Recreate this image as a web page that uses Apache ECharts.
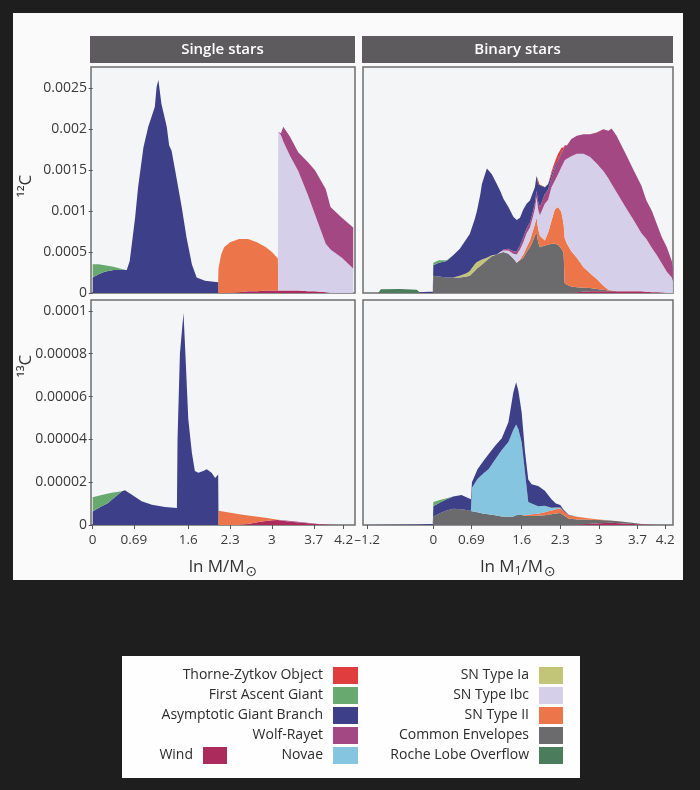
<!DOCTYPE html>
<html><head><meta charset="utf-8">
<script src="https://cdn.jsdelivr.net/npm/echarts@6/dist/echarts.min.js"></script>
<style>html,body{margin:0;padding:0;background:#1e1e1e}#c{width:700px;height:790px}</style>
</head><body><div id="c"></div>
<script>
// ---------- Tick values and labels ----------
const xTicksSingle = [0, 0.69, 1.6, 2.3, 3, 3.7, 4.2];
const xLabelsSingle = ['0', '0.69', '1.6', '2.3', '3', '3.7', '4.2'];
const xTicksBinary = [-1.2, 0, 0.69, 1.6, 2.3, 3, 3.7, 4.2];
const xLabelsBinary = ['\u20131.2', '0', '0.69', '1.6', '2.3', '3', '3.7', '4.2'];
const yTicks12 = [0, 0.0005, 0.001, 0.0015, 0.002, 0.0025];
const yLabels12 = ['0', '0.0005', '0.001', '0.0015', '0.002', '0.0025'];
const yTicks13 = [0, 0.00002, 0.00004, 0.00006, 0.00008, 0.0001];
const yLabels13 = ['0', '0.00002', '0.00004', '0.00006', '0.00008', '0.0001'];

// ---------- Single stars, 12C ----------
const xSingle12 = [0,0.1,0.2,0.35,0.5, 0.57,0.62,0.71,0.76,0.85, 0.93,1.02,1.04,1.07,1.1, 1.15,1.24,1.28,1.32,1.38, 1.49,1.57,1.66,1.74,1.88, 2.1,2.105,2.15,2.2,2.3, 2.45,2.6,2.75,2.9,3.0, 3.1,3.105,3.15,3.19,3.3, 3.44,3.6,3.72,3.9,3.98, 4.17,4.36];
const s12Wind = [0,0,0,0,0, 0,0,0,0,0, 0,0,0,0,0, 0,0,0,0,0, 0,0,0,0,0, 0,0,0,0,0, 0.00001,0.00002,0.00002,0.00003,0.00003, 0.00003,0.00003,0.00003,0.00003,0.00003, 0.00003,0.00002,0.00002,0.00001,0, 0,0];
const s12SNII = [0,0,0,0,0, 0,0,0,0,0, 0,0,0,0,0, 0,0,0,0,0, 0,0,0,0,0, 0,0.0003,0.00047,0.00056,0.00062, 0.00065,0.00064,0.0006,0.00053,0.00047, 0.00039,0,0,0,0, 0,0,0,0,0, 0,0];
const s12Ibc = [0,0,0,0,0, 0,0,0,0,0, 0,0,0,0,0, 0,0,0,0,0, 0,0,0,0,0, 0,0,0,0,0, 0,0,0,0,0, 0,0.00194,0.0019,0.00182,0.00165, 0.00146,0.00118,0.00094,0.00059,0.00053, 0.00043,0.0003];
const s12WR = [0,0,0,0,0, 0,0,0,0,0, 0,0,0,0,0, 0,0,0,0,0, 0,0,0,0,0, 0,0,0,0,0, 0,0,0,0,0, 0,0,0.00002,0.00018,0.00023, 0.00023,0.0004,0.00054,0.00067,0.00052, 0.00049,0.0005];
const s12AGB = [0.00019,0.00023,0.00026,0.00028,0.00028, 0.00028,0.00039,0.00092,0.00129,0.00178, 0.00203,0.00223,0.00227,0.00252,0.0026, 0.00231,0.00203,0.0018,0.00174,0.0015, 0.00105,0.00068,0.00035,0.00019,0.00015, 0.00013,0,0,0,0, 0,0,0,0,0, 0,0,0,0,0, 0,0,0,0,0, 0,0];
const s12FAG = [0.00016,0.00012,0.00008,0.00004,0.00001, 0,0,0,0,0, 0,0,0,0,0, 0,0,0,0,0, 0,0,0,0,0, 0,0,0,0,0, 0,0,0,0,0, 0,0,0,0,0, 0,0,0,0,0, 0,0];

// ---------- Binary stars, 12C ----------
const xBinary12 = [-1.27,-1.0,-0.95,-0.6,-0.3, -0.25,-0.1,-0.01,0,0.1, 0.24,0.36,0.48,0.6,0.66, 0.75,0.79,0.85,0.88,0.97, 1.06,1.15,1.21,1.27,1.36, 1.45,1.51,1.57,1.63,1.69, 1.75,1.8,1.84,1.87,1.9, 1.93,2.02,2.08,2.14,2.2, 2.26,2.32,2.36,2.38,2.42, 2.5,2.6,2.72,2.84,2.96, 3.08,3.17,3.23,3.32,3.5, 3.62,3.77,3.86,3.96,4.05, 4.14,4.23,4.32,4.34];
const b12Wind = [0,0,0,0,0, 0,0,0,0,0, 0,0,0,0,0, 0,0,0,0,0, 0,0,0,0,0, 0,0,0,0,0, 0,0,0,0,0, 0,0,0,0,0, 0,0,0,0,0, 0,0.00001,0.000015,0.00002,0.00002, 0.00002,0.00002,0.00002,0.00002,0.00002, 0.00002,0.00002,0.000015,0.00001,0.00001, 0.000005,0,0,0];
const b12RLOF = [0,0,0.000045,0.00005,0.00004, 0,0,0,0,0, 0,0,0,0,0, 0,0,0,0,0, 0,0,0,0,0, 0,0,0,0,0, 0,0,0,0,0, 0,0,0,0,0, 0,0,0,0,0, 0,0,0,0,0, 0,0,0,0,0, 0,0,0,0,0, 0,0,0,0];
const b12CE = [0,0,0,0,0, 0,0,0,0.00021,0.0002, 0.00019,0.00019,0.00019,0.0002,0.00021, 0.00027,0.0003,0.00033,0.00035,0.0004, 0.00045,0.00047,0.00049,0.0005,0.00048, 0.00042,0.00037,0.0004,0.00043,0.0005, 0.00056,0.00063,0.0007,0.00074,0.00062, 0.00056,0.00058,0.00059,0.0006,0.0006, 0.00059,0.00054,0.00049,0.00012,0.0001, 0.00008,0.00006,0.00005,0.00004,0.00003, 0.00002,0.00001,0.00001,0,0, 0,0,0,0,0, 0,0,0,0];
const b12SNII = [0,0,0,0,0, 0,0,0,0,0, 0,0,0,0,0, 0,0,0,0,0, 0,0,0,0,0, 0,0,0.00001,0.00004,0.00006, 0.00008,0.00012,0.00014,0.00018,0.00016, 0.00014,0.00006,0.00015,0.00028,0.00042, 0.00046,0.00045,0.00035,0.00055,0.0005, 0.00043,0.00036,0.00025,0.00018,0.00012, 0.00005,0.00001,0,0,0, 0,0,0,0,0, 0,0,0,0];
const b12Ibc = [0,0,0,0,0, 0,0,0,0,0, 0,0,0,0,0, 0,0,0,0,0, 0,0,0.00001,0.00002,0.00004, 0.00006,0.0001,0.00012,0.00015,0.00017, 0.00016,0.00017,0.00019,0.00025,0.00024, 0.00025,0.00045,0.0004,0.00041,0.00035, 0.0004,0.00055,0.00075,0.00095,0.00104, 0.00116,0.00127,0.001385,0.00142,0.00141, 0.0014,0.00136,0.0013,0.00121,0.00101, 0.00088,0.00071,0.000645,0.00054,0.00045, 0.000355,0.00026,0.00019,0.00015];
const b12Ia = [0,0,0,0,0, 0,0,0,0,0, 0,0,0.00002,0.00004,0.00006, 0.00008,0.00008,0.00007,0.00006,0.00003, 0.00001,0,0,0,0, 0,0,0,0,0, 0,0,0,0,0, 0,0,0,0,0, 0,0,0,0,0, 0,0,0,0,0, 0,0,0,0,0, 0,0,0,0,0, 0,0,0,0];
const b12WR = [0,0,0,0,0, 0,0,0,0,0, 0,0,0,0,0, 0,0,0,0,0, 0,0,0,0.00001,0.00002, 0.00003,0.00004,0.00005,0.00006,0.00006, 0.00006,0.00006,0.00007,0.00008,0.00009, 0.0001,0.00012,0.00012,0.00012,0.00015, 0.00015,0.00016,0.00017,0.00018,0.00016, 0.00021,0.00022,0.00024,0.00028,0.00038, 0.00051,0.00058,0.00068,0.00069,0.00065, 0.00061,0.00058,0.00047,0.00045,0.00038, 0.00032,0.0003,0.0002,0.00016];
const b12AGB = [0,0,0,0,0, 0.00001,0.000015,0.000015,0.00013,0.00017, 0.0002,0.00027,0.00033,0.00042,0.00045, 0.00055,0.00062,0.0008,0.00092,0.00109, 0.00099,0.00086,0.00075,0.00062,0.00051, 0.00042,0.00038,0.00034,0.00034,0.0003, 0.00027,0.00024,0.00019,0.00018,0.00022, 0.00026,0.00008,0.00007,0.00004,0.00003, 0.00002,0.00002,0,0,0, 0,0,0,0,0, 0,0,0,0,0, 0,0,0,0,0, 0,0,0,0];
const b12FAG = [0,0,0,0,0, 0,0,0,0.00003,0.00003, 0.00001,0,0,0,0, 0,0,0,0,0, 0,0,0,0,0, 0,0,0,0,0, 0,0,0,0,0, 0,0,0,0,0, 0,0,0,0,0, 0,0,0,0,0, 0,0,0,0,0, 0,0,0,0,0, 0,0,0,0];
const b12TZO = [0,0,0,0,0, 0,0,0,0,0, 0,0,0,0,0, 0,0,0,0,0, 0,0,0,0,0, 0,0,0,0,0, 0,0,0,0,0, 0,0,0,0.00003,0.00005, 0.00008,0.00005,0.00002,0,0, 0,0,0,0,0, 0,0,0,0,0, 0,0,0,0,0, 0,0,0,0];

// ---------- Single stars, 13C ----------
const xSingle13 = [0,0.15,0.26,0.32,0.49, 0.54,0.65,0.82,0.99,1.21, 1.41,1.42,1.46,1.52,1.55, 1.6,1.66,1.71,1.77,1.85, 1.91,1.99,2.05,2.08,2.1, 2.105,2.43,2.6,2.8,3.0, 3.1,3.27,3.55,3.78,3.95, 4.1,4.36];
const s13Wind = [0,0,0,0,0, 0,0,0,0,0, 0,0,0,0,0, 0,0,0,0,0, 0,0,0,0,0, 0,0,5e-7,1.5e-6,2.2e-6, 2.3e-6,1.6e-6,9e-7,4e-7,1.5e-7, 0,0];
const s13SNII = [0,0,0,0,0, 0,0,0,0,0, 0,0,0,0,0, 0,0,0,0,0, 0,0,0,0,0, 6.7e-6,5.1e-6,3.9e-6,2.2e-6,7e-7, 2e-7,0,0,0,0, 0,0];
const s13WR = [0,0,0,0,0, 0,0,0,0,0, 0,0,0,0,0, 0,0,0,0,0, 0,0,0,0,0, 0,0,0,0,0, 0,4e-7,3e-7,1e-7,0, 0,0];
const s13AGB = [6.3e-6,8.7e-6,1.03e-5,1.18e-5,1.58e-5, 1.62e-5,1.42e-5,1.11e-5,9.5e-6,8.4e-6, 7.9e-6,4e-5,8e-5,9.9e-5,8.1e-5, 4.95e-5,3.38e-5,2.52e-5,2.44e-5,2.52e-5, 2.6e-5,2.44e-5,2.2e-5,2.28e-5,2.36e-5, 0,0,0,0,0, 0,0,0,0,0, 0,0];
const s13FAG = [6.7e-6,5.3e-6,4.4e-6,3.3e-6,0, 0,0,0,0,0, 0,0,0,0,0, 0,0,0,0,0, 0,0,0,0,0, 0,0,0,0,0, 0,0,0,0,0, 0,0];

// ---------- Binary stars, 13C ----------
const xBinary13 = [-1.27,-0.3,-0.01,0,0.12, 0.24,0.36,0.51,0.6,0.68, 0.7,0.8,0.91,1.0,1.12, 1.24,1.36,1.45,1.5,1.54, 1.6,1.66,1.72,1.78,1.9, 2.02,2.14,2.22,2.3,2.36, 2.45,2.6,2.8,3.0,3.2, 3.4,3.6,3.8,4.0,4.34];
const b13Wind = [0,0,0,0,0, 0,0,0,0,0, 0,0,0,0,0, 0,0,0,0,0, 0,0,0,0,0, 0,0,0,0,0, 0,2e-7,5e-7,8e-7,1e-6, 8e-7,5e-7,2e-7,0,0];
const b13CE = [0,0,0,4e-6,5.5e-6, 6.8e-6,7.6e-6,7.4e-6,7e-6,6.5e-6, 6.4e-6,6e-6,5.2e-6,5e-6,4.6e-6, 4e-6,3.8e-6,4e-6,4.5e-6,4.8e-6, 4.7e-6,4.3e-6,4.2e-6,4.2e-6,4.3e-6, 4.6e-6,5e-6,5.4e-6,5.6e-6,4.5e-6, 3e-6,2.4e-6,2e-6,1.5e-6,1.1e-6, 8e-7,5e-7,2e-7,1e-7,0];
const b13SNII = [0,0,0,0,0, 0,0,0,0,0, 0,0,0,0,0, 0,0,0,0,0, 0,3e-7,6e-7,8e-7,1e-6, 1.4e-6,1.8e-6,2e-6,2.2e-6,2e-6, 1.6e-6,1.2e-6,7e-7,3e-7,0, 0,0,0,0,0];
const b13Novae = [0,0,0,0,0, 0,0,0,0,0, 1.1e-5,1.55e-5,1.9e-5,2.1e-5,2.6e-5, 3.1e-5,3.5e-5,4.05e-5,4.25e-5,4e-5, 3.4e-5,2e-5,6e-6,5e-6,3.4e-6, 3e-6,1.2e-6,8e-7,4e-7,0, 0,0,0,0,0, 0,0,0,0,0];
const b13AGB = [0,2e-7,5e-7,4.7e-6,5e-6, 5.2e-6,5.7e-6,6.6e-6,6e-6,5.5e-6, 2.6e-6,4.5e-6,5.8e-6,7e-6,6.4e-6, 5.5e-6,9.2e-6,1.75e-5,1.97e-5,1.8e-5, 1.4e-5,1e-5,1.05e-5,9e-6,9.5e-6, 7e-6,4e-6,1.8e-6,1.2e-6,6e-7, 2e-7,0,0,0,0, 0,0,0,0,0];
const b13FAG = [0,0,0,2e-6,1.2e-6, 5e-7,0,0,0,0, 0,0,0,0,0, 0,0,0,0,0, 0,0,0,0,0, 0,0,0,0,0, 0,0,0,0,0, 0,0,0,0,0];

// ---------- Legend columns ----------
const legendCol1 = ['Thorne-Zytkov Object', 'First Ascent Giant', 'Asymptotic Giant Branch', 'Wolf-Rayet', 'Novae'];
const legendCol2 = ['SN Type Ia', 'SN Type Ibc', 'SN Type II', 'Common Envelopes', 'Roche Lobe Overflow'];
const legendCol3 = ['Wind'];

const COLORS = {
  'Thorne-Zytkov Object': '#e03e3e',
  'First Ascent Giant': '#67a96f',
  'Asymptotic Giant Branch': '#3d3f89',
  'Wolf-Rayet': '#a34883',
  'Wind': '#ab2c5c',
  'Novae': '#86c5df',
  'SN Type Ia': '#c2c578',
  'SN Type Ibc': '#d6cfe9',
  'SN Type II': '#ec7549',
  'Common Envelopes': '#6b6b6d',
  'Roche Lobe Overflow': '#4b7d5c'
};

// panels: stacking order bottom -> top
const panels = [
  { gi: 0, xs: xSingle12, layers: [['Wind', s12Wind], ['SN Type II', s12SNII], ['SN Type Ibc', s12Ibc], ['Wolf-Rayet', s12WR], ['Asymptotic Giant Branch', s12AGB], ['First Ascent Giant', s12FAG]] },
  { gi: 1, xs: xBinary12, layers: [['Wind', b12Wind], ['Roche Lobe Overflow', b12RLOF], ['Common Envelopes', b12CE], ['SN Type II', b12SNII], ['SN Type Ibc', b12Ibc], ['SN Type Ia', b12Ia], ['Wolf-Rayet', b12WR], ['Asymptotic Giant Branch', b12AGB], ['First Ascent Giant', b12FAG], ['Thorne-Zytkov Object', b12TZO]] },
  { gi: 2, xs: xSingle13, layers: [['Wind', s13Wind], ['SN Type II', s13SNII], ['Wolf-Rayet', s13WR], ['Asymptotic Giant Branch', s13AGB], ['First Ascent Giant', s13FAG]] },
  { gi: 3, xs: xBinary13, layers: [['Wind', b13Wind], ['Common Envelopes', b13CE], ['SN Type II', b13SNII], ['Novae', b13Novae], ['Asymptotic Giant Branch', b13AGB], ['First Ascent Giant', b13FAG]] }
];

// Data items are [value, x] so that the stacked dimension (the first numeric one) is the value (y).
const series = [];
panels.forEach(p => {
  p.layers.forEach(([name, ys]) => {
    series.push({
      name, type: 'line', xAxisIndex: p.gi, yAxisIndex: p.gi, stack: 'p' + p.gi,
      encode: { x: 1, y: 0 },
      data: p.xs.map((x, i) => [ys[i], x]),
      symbol: 'none', showSymbol: false, smooth: false,
      color: COLORS[name], itemStyle: { color: COLORS[name] },
      lineStyle: { width: 0 }, areaStyle: { color: COLORS[name], opacity: 1 },
      emphasis: { disabled: true }, silent: true
    });
  });
});

const FONT = '"Open Sans", "DejaVu Sans", sans-serif';
function lookup(ticks, labels) {
  return v => { let best = 0; ticks.forEach((t, i) => { if (Math.abs(t - v) < Math.abs(ticks[best] - v)) best = i; }); return labels[best]; };
}
const gridBase = { show: true, backgroundColor: '#f4f5f7', borderColor: '#6e6e6e', borderWidth: 1.5, containLabel: false, outerBoundsMode: 'none' };
const hidden = { axisLine: { show: false }, axisTick: { show: false }, axisLabel: { show: false }, splitLine: { show: false } };
function shownX(ticks, labels) {
  return { axisLine: { show: false }, splitLine: { show: false },
    axisTick: { show: true, length: 4, customValues: ticks, lineStyle: { color: '#555', width: 1 } },
    axisLabel: { show: true, customValues: ticks, formatter: lookup(ticks, labels), color: '#3a3a3a', fontSize: 13.5, fontFamily: FONT, margin: 8 } };
}
function shownY(ticks, labels) {
  return { axisLine: { show: false }, splitLine: { show: false },
    axisTick: { show: true, length: 4, customValues: ticks, lineStyle: { color: '#555', width: 1 } },
    axisLabel: { show: true, customValues: ticks, formatter: lookup(ticks, labels), color: '#3a3a3a', fontSize: 14, fontFamily: FONT, margin: 4 } };
}
const nameRich = {
  a: { fontSize: 17, color: '#333', fontFamily: FONT },
  s: { fontSize: 12, color: '#333', fontFamily: FONT, padding: [9, 0, 0, 0] },
  o: { fontSize: 14, color: '#333', fontFamily: 'DejaVu Sans', padding: [9, 0, 0, 1] }
};

const option = {
  animation: false,
  backgroundColor: '#1e1e1e',
  grid: [
    Object.assign({ left: 91, top: 67, width: 264, height: 226 }, gridBase),
    Object.assign({ left: 363, top: 67, width: 310, height: 226 }, gridBase),
    Object.assign({ left: 91, top: 300, width: 264, height: 225 }, gridBase),
    Object.assign({ left: 363, top: 300, width: 310, height: 225 }, gridBase)
  ],
  xAxis: [
    Object.assign({ gridIndex: 0, type: 'value', min: -0.028, max: 4.39 }, hidden),
    Object.assign({ gridIndex: 1, type: 'value', min: -1.274, max: 4.342 }, hidden),
    Object.assign({ gridIndex: 2, type: 'value', min: -0.028, max: 4.39,
      name: '{a|ln M/M}{o|\u2299}', nameLocation: 'middle', nameGap: 31, nameTextStyle: { rich: nameRich } }, shownX(xTicksSingle, xLabelsSingle)),
    Object.assign({ gridIndex: 3, type: 'value', min: -1.274, max: 4.342,
      name: '{a|ln M}{s|1}{a|/M}{o|\u2299}', nameLocation: 'middle', nameGap: 31, nameTextStyle: { rich: nameRich } }, shownX(xTicksBinary, xLabelsBinary))
  ],
  yAxis: [
    Object.assign({ gridIndex: 0, type: 'value', min: 0, max: 0.00276 }, shownY(yTicks12, yLabels12)),
    Object.assign({ gridIndex: 1, type: 'value', min: 0, max: 0.00276 }, hidden),
    Object.assign({ gridIndex: 2, type: 'value', min: 0, max: 0.0001051 }, shownY(yTicks13, yLabels13)),
    Object.assign({ gridIndex: 3, type: 'value', min: 0, max: 0.0001051 }, hidden)
  ],
  legend: [
    { data: legendCol1, orient: 'vertical', align: 'right', right: 342, top: 667, itemWidth: 25, itemHeight: 17, itemGap: 3, padding: 0, icon: 'rect', selectedMode: false,
      textStyle: { fontSize: 14, color: '#2b2b2b', fontFamily: FONT, padding: [0, 5, 0, 0] } },
    { data: legendCol2, orient: 'vertical', align: 'right', right: 137, top: 667, itemWidth: 24, itemHeight: 17, itemGap: 3, padding: 0, icon: 'rect', selectedMode: false,
      textStyle: { fontSize: 14, color: '#2b2b2b', fontFamily: FONT, padding: [0, 5, 0, 0] } },
    { data: legendCol3, orient: 'vertical', align: 'right', right: 473, top: 747, itemWidth: 24, itemHeight: 17, itemGap: 3, padding: 0, icon: 'rect', selectedMode: false,
      textStyle: { fontSize: 14, color: '#2b2b2b', fontFamily: FONT, padding: [0, 5, 0, 0] } }
  ],
  graphic: [
    { type: 'rect', z: -10, shape: { x: 13, y: 13, width: 670, height: 567 }, style: { fill: '#fafafa' } },
    { type: 'rect', z: -10, shape: { x: 122, y: 656, width: 458, height: 122 }, style: { fill: '#fefefe' } },
    { type: 'rect', z: 5, shape: { x: 90, y: 36, width: 265, height: 27 }, style: { fill: '#5d5b5d' } },
    { type: 'rect', z: 5, shape: { x: 362, y: 36, width: 311, height: 27 }, style: { fill: '#5d5b5d' } },
    { type: 'text', z: 6, x: 222.5, y: 50, style: { text: 'Single stars', fill: '#ffffff', font: '600 15px "Open Sans"', textAlign: 'center', textVerticalAlign: 'middle', align: 'center', verticalAlign: 'middle' } },
    { type: 'text', z: 6, x: 517.5, y: 50, style: { text: 'Binary stars', fill: '#ffffff', font: '600 15px "Open Sans"', textAlign: 'center', textVerticalAlign: 'middle', align: 'center', verticalAlign: 'middle' } },
    { type: 'text', z: 6, x: 26, y: 186, rotation: Math.PI / 2, style: { text: '\u00b9\u00b2C', fill: '#333', font: '17px "Open Sans"', textAlign: 'center', textVerticalAlign: 'middle', align: 'center', verticalAlign: 'middle' } },
    { type: 'text', z: 6, x: 26, y: 366, rotation: Math.PI / 2, style: { text: '\u00b9\u00b3C', fill: '#333', font: '17px "Open Sans"', textAlign: 'center', textVerticalAlign: 'middle', align: 'center', verticalAlign: 'middle' } }
  ],
  series
};

const chart = echarts.init(document.getElementById('c'), null, { renderer: 'canvas', width: 700, height: 790 });
chart.setOption(option);
</script>
</body></html>
